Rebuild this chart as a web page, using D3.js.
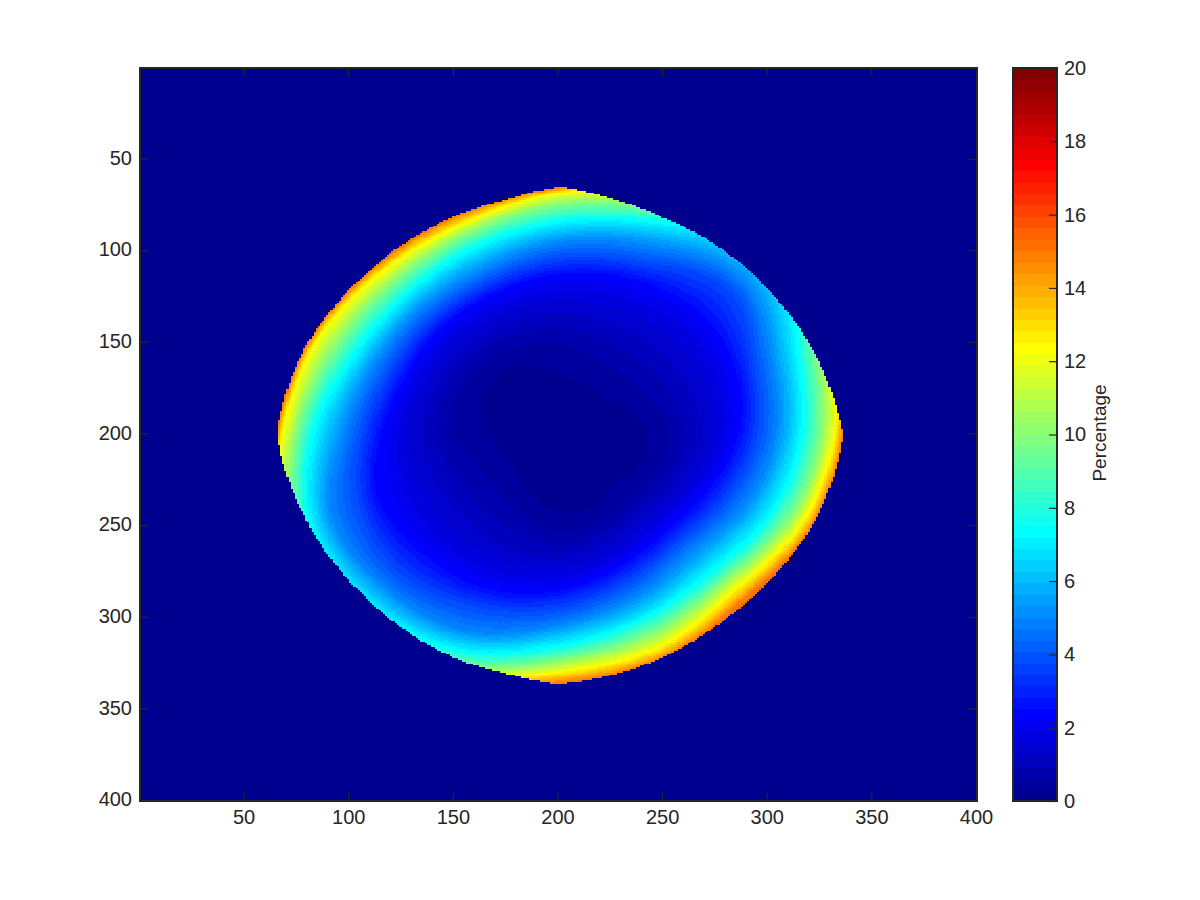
<!DOCTYPE html>
<html>
<head>
<meta charset="utf-8">
<script src="https://cdn.jsdelivr.net/npm/d3@7"></script>
<style>
html,body{margin:0;padding:0;background:#fff;}
svg{display:block;}
text{font-family:"Liberation Sans",Arial,sans-serif;fill:#262626;}
</style>
</head>
<body>
<svg id="chart" width="1200" height="900"></svg>
<script>
const xTicks = [50,100,150,200,250,300,350,400];
const yTicks = [50,100,150,200,250,300,350,400];
const barTicks = [0,2,4,6,8,10,12,14,16,18,20];
const barLabel = "Percentage";

// outer edge of the non-zero region: radius from the grid centre, every 11.25 degrees (clockwise from +x)
const edgeRadius = [136,133,130.9,129,128,129,131.4,133.6,136,132.6,131.6,129.5,128,128,128.9,131.3,
                    134.5,131.8,129.8,127.8,127.2,127.8,129,130.5,135,131.2,128.4,128,127.4,128,129.7,132];

// colour-bin index of each iso-contour (bin width 20/64 percent)
const contourBins = [1,2,3,4,5,6,7,8,10,12,14,16,18,20,22,24,27,30,33,36,39,42,45,48];

// radius of each contour above, read along 16 directions
const r000 = [43,54,61,68,74,79,82.5,86,90.5,95,99.5,104,107.4,110.5,113.5,116.5,120,123.6,126.8,129,131.3,133,134.5,136];
const r022 = [43,52,58,63,68,72,75,78,83,87.5,92,97,101,104,108,111,114,117.5,120.5,123,125.5,127.7,129.5,131];
const r045 = [37,49,55,60,64,68,71,73.6,78,82,86,90,94.5,98,101.5,105,108.4,111,113.6,116.4,119,121.7,124,126.6];
const r067 = [43,52,58,63,68,72,75,78,82.5,87,91.5,96,99.5,103,106,108.5,112,115.5,118.7,122,125,127.7,130,131.8];
const r090 = [42,54,61,67.5,73,78,82,85.5,90,95,99.5,104,107,110,113,116,119,122,124.4,126.8,129.2,131.5,133.7,136];
const r112 = [35,47,57,66,74,81,86,91,96.5,102,109,116,119,122,125,127.5,131,134,136.5,138.5,140.4,142,144,146];
const r135 = [29,42,54,64,73,81,87,92,100,107,113,118,121,125,128,132,136,140,144,147,150,153,156,159];
const r157 = [27,43,54,63,72,79,86,93,98,103,110,117,120,123,126,128.5,131,134,137,139,141,143,146,149];
const r180 = [32,50.6,58.5,65.4,71.6,77,81,85,89.5,94,98.5,103,107,111,114.4,118,121,124,126.8,129,131.3,132.7,133.7,135];
const r202 = [40,53,59,64.6,69.5,73.8,77,80,84,88,92,96,99,102,105,108,111.8,115.5,119,122.5,126,127.7,128.7,130];
const r225 = [43.5,53.6,60,65,70,74.7,78,81,84.5,88,91.5,95,98,100.7,103.4,106,109.4,112.8,116,119,122,124,125.5,127];
const r247 = [41,52,59,65,71,76,80,83,86.5,90,93.5,97,100.5,104,107,110,113,116,118.8,121,123.2,125.3,127.3,129];
const r270 = [33,50,58.6,66,73,79,83.5,87.6,92,96.3,100.6,105,108,111,114,116.7,120,123.7,126.8,129,131.3,132.7,133.7,135];
const r292 = [30,45,56,65,74,81,87,92,97,102,107,112,116,119.5,123,126,129,132,135,137.5,140,142.5,145,147];
const r315 = [29,44.6,56,67,76,84,90,95,104,113,118,122,127,132,138,145,148,151,154,157,160,163,166,169];
const r337 = [35,48,58,67,75,82,87,92,96.5,101,105.5,110,113.8,117.3,120.6,124,127.4,130.8,133.8,136,138.3,140.3,142.3,144];
const directionRows = [r000,r022,r045,r067,r090,r112,r135,r157,r180,r202,r225,r247,r270,r292,r315,r337];

const gridSize = 400, gridCentre = 200.5, binCount = 64, valueMax = 20;

// Layout
const L = 140, R = 977, T = 68, B = 801;
const barL = 1013, barR = 1057;
const frameColor = "#262626";

const x = d3.scaleLinear().domain([0.5, gridSize + 0.5]).range([L, R]);
const y = d3.scaleLinear().domain([0.5, gridSize + 0.5]).range([T, B]);
const barY = d3.scaleLinear().domain([0, valueMax]).range([B, T]);

// MATLAB "jet" colour map with 64 entries
function jetColor(i) {
  const t = (i + 1) / binCount;
  const f = c => {
    const v = Math.min(4 * t - c, -4 * t + c + 3);
    return Math.round(255 * Math.max(0, Math.min(1, v)));
  };
  return d3.rgb(f(1.5), f(0.5), f(-0.5)).formatHex();
}

const svg = d3.select("#chart");

// Background: lowest colour
svg.append("rect").attr("x", L).attr("y", T).attr("width", R - L).attr("height", B - T)
   .attr("fill", jetColor(0));

// Angular lookup of the contour radii (smooth closed curve through the 16 readings)
const lookupN = 1440;
function catmull(p0, p1, p2, p3, t) {
  return 0.5 * (2 * p1 + (p2 - p0) * t + (2 * p0 - 5 * p1 + 4 * p2 - p3) * t * t + (3 * p1 - p0 - 3 * p2 + p3) * t * t * t);
}
const nDir = directionRows.length;
const contourLookup = contourBins.map((_, li) => {
  const out = new Float64Array(lookupN);
  for (let a = 0; a < lookupN; a++) {
    const u = a / lookupN * nDir, i = Math.floor(u), t = u - i;
    const at = k => directionRows[(k + nDir) % nDir][li];
    out[a] = catmull(at(i - 1), at(i), at(i + 1), at(i + 2), t);
  }
  return out;
});
const edgeLookup = new Float64Array(lookupN);
for (let a = 0; a < lookupN; a++) {
  const u = a / lookupN * edgeRadius.length, i = Math.floor(u), t = u - i;
  edgeLookup[a] = d3.interpolateNumber(edgeRadius[i], edgeRadius[(i + 1) % edgeRadius.length])(t);
}

// Colour bin of a cell lying between two neighbouring contours
function binAt(r, idx) {
  let bin = 0;
  for (let l = 0; l < contourBins.length; l++) {
    const r0 = contourLookup[l][idx];
    if (r < r0) break;
    bin = contourBins[l];
    if (l + 1 < contourBins.length) {
      const r1 = contourLookup[l + 1][idx];
      if (r < r1 && r1 > r0) {
        bin = Math.floor(contourBins[l] + (r - r0) / (r1 - r0) * (contourBins[l + 1] - contourBins[l]));
        break;
      }
    }
  }
  return bin;
}

// Walk the grid and collect horizontal runs of equal colour bin
const runs = [];
for (let row = 1; row <= gridSize; row++) {
  let start = null, cur = 0;
  for (let col = 1; col <= gridSize + 1; col++) {
    let bin = 0;
    if (col <= gridSize) {
      const dx = col - gridCentre, dy = row - gridCentre;
      const r = Math.hypot(dx, dy);
      if (r < 160) {
        let a = Math.atan2(dy, dx); if (a < 0) a += 2 * Math.PI;
        const idx = Math.min(lookupN - 1, Math.floor(a / (2 * Math.PI) * lookupN));
        if (r <= edgeLookup[idx]) bin = binAt(r, idx);
      }
    }
    if (bin !== cur) {
      if (cur > 0) runs.push({row, c0: start, c1: col - 1, bin: cur});
      start = col; cur = bin;
    }
  }
}

svg.append("g").attr("shape-rendering", "crispEdges")
  .selectAll("rect").data(runs).join("rect")
  .attr("x", d => x(d.c0 - 0.5))
  .attr("width", d => x(d.c1 + 0.5) - x(d.c0 - 0.5))
  .attr("y", d => y(d.row - 0.5))
  .attr("height", d => y(d.row + 0.5) - y(d.row - 0.5))
  .attr("fill", d => jetColor(d.bin));

function styleAxis(g) {
  g.select(".domain").remove();
  g.selectAll(".tick line").attr("stroke", frameColor).attr("stroke-width", 1.2);
  g.selectAll(".tick text").style("font-size", "20px").attr("fill", frameColor);
}

svg.append("g").attr("transform", `translate(0,${B})`)
  .call(d3.axisBottom(x).tickValues(xTicks).tickSizeInner(-8).tickSizeOuter(0).tickPadding(9))
  .call(styleAxis);
svg.append("g").attr("transform", `translate(0,${T})`)
  .call(d3.axisTop(x).tickValues(xTicks).tickSizeInner(-8).tickSizeOuter(0).tickFormat(""))
  .call(styleAxis);
svg.append("g").attr("transform", `translate(${L},0)`)
  .call(d3.axisLeft(y).tickValues(yTicks).tickSizeInner(-8).tickSizeOuter(0).tickPadding(8))
  .call(styleAxis)
  .call(g => g.selectAll(".tick text").attr("dy", "0.28em"));
svg.append("g").attr("transform", `translate(${R},0)`)
  .call(d3.axisRight(y).tickValues(yTicks).tickSizeInner(-8).tickSizeOuter(0).tickFormat(""))
  .call(styleAxis);

svg.append("rect").attr("x", L).attr("y", T).attr("width", R - L).attr("height", B - T)
   .attr("fill", "none").attr("stroke", frameColor).attr("stroke-width", 2);

// Colour bar
const bins = d3.range(binCount);
svg.append("g").attr("shape-rendering", "crispEdges")
  .selectAll("rect").data(bins).join("rect")
  .attr("x", barL).attr("width", barR - barL)
  .attr("y", d => barY((d + 1) * valueMax / binCount))
  .attr("height", d => barY(d * valueMax / binCount) - barY((d + 1) * valueMax / binCount))
  .attr("fill", d => jetColor(d));

svg.append("g").attr("transform", `translate(${barR},0)`)
  .call(d3.axisRight(barY).tickValues(barTicks).tickSizeInner(-8).tickSizeOuter(0).tickPadding(7))
  .call(styleAxis);

svg.append("rect").attr("x", barL).attr("y", T).attr("width", barR - barL).attr("height", B - T)
   .attr("fill", "none").attr("stroke", frameColor).attr("stroke-width", 2);

svg.append("text")
  .attr("transform", `translate(1106,433) rotate(-90)`)
  .attr("text-anchor", "middle")
  .style("font-size", "19px").text(barLabel);
</script>
</body>
</html>
